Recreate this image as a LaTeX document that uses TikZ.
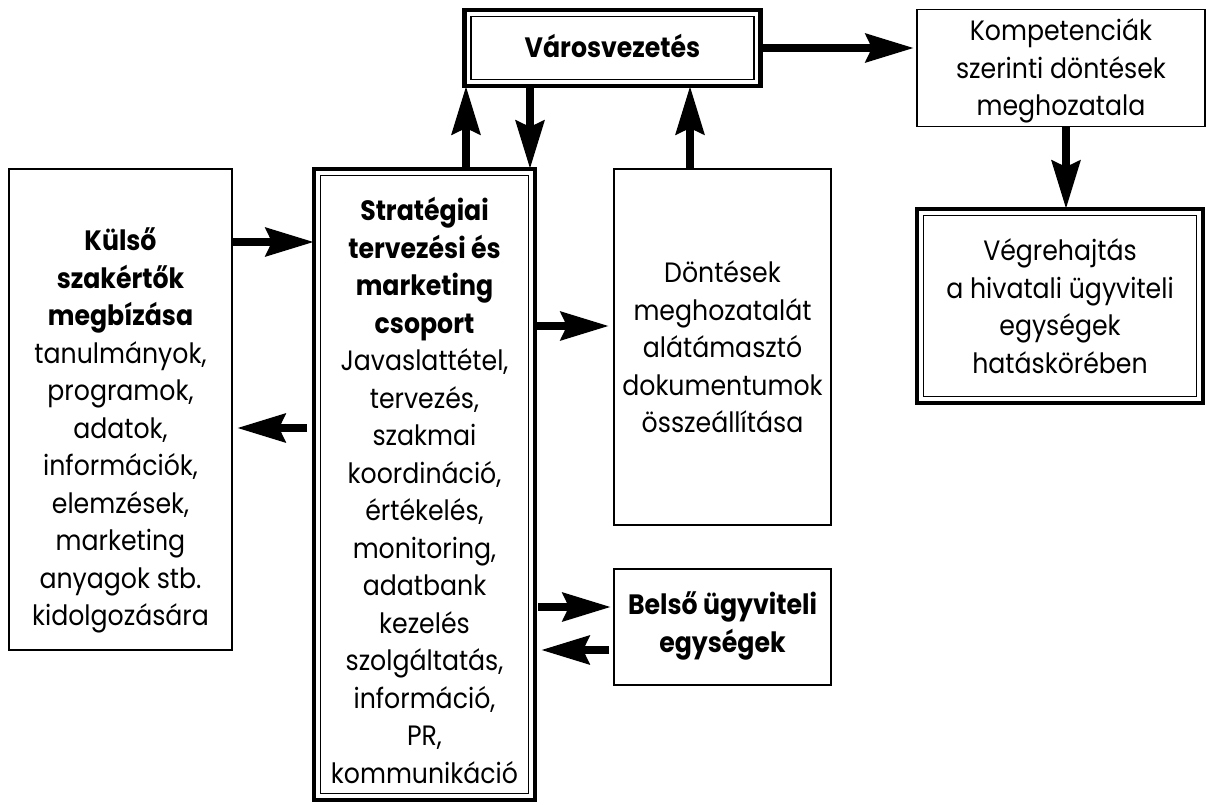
\documentclass[tikz,border=0pt]{standalone}
\usepackage{fontspec}
\setmainfont[FakeStretch=0.9]{Poppins}
\usetikzlibrary{arrows.meta}
\tikzset{
  box/.style={draw, line width=1.8pt, inner sep=0pt, outer sep=0pt},
  dbox/.style={box, line width=4.5pt},
  txt/.style={align=center, inner sep=0pt, font=\fontsize{28}{37.5}\selectfont},
  arr/.style={line width=8.5pt, -{Stealth[length=48pt,width=28pt,inset=6pt]}},
}
\newcommand{\innerframe}[1]{%
  \draw[line width=1.5pt] ([shift={(6.5pt,-6.5pt)}]#1.north west) rectangle ([shift={(-6.5pt,6.5pt)}]#1.south east);}
\begin{document}
\begin{tikzpicture}[x=1pt,y=-1pt]
\useasboundingbox (0,0) rectangle (1209,805);

% frames
\node[dbox, minimum width=296pt, minimum height=76pt] (vv) at (612.5,48) {};
\innerframe{vv}
\node[box, minimum width=288pt, minimum height=117pt] (komp) at (1061,68) {};
\node[dbox, minimum width=286pt, minimum height=194pt] (vegre) at (1060,306) {};
\innerframe{vegre}
\node[box, minimum width=223pt, minimum height=481pt] (kulso) at (120.5,409.5) {};
\node[dbox, minimum width=221pt, minimum height=631pt] (strat) at (424.5,484.5) {};
\innerframe{strat}
\node[box, minimum width=217pt, minimum height=356pt] (dontes) at (722.5,347) {};
\node[box, minimum width=217pt, minimum height=116pt] (belso) at (722.5,627) {};

% texts
\node[txt] (vvT) at ([yshift=2pt]vv.center) {\textbf{Városvezetés}};
\node[txt] (kompT) at ([yshift=-3pt]komp.center) {Kompetenciák\\szerinti döntések\\meghozatala};
\node[txt] (vegreT) at (vegre.center) {Végrehajtás\\a hivatali ügyviteli\\egységek\\hatáskörében};
\node[txt] (kulsoT) at ([yshift=-21pt]kulso.center)
  {\textbf{Külső}\\\textbf{szakértők}\\\textbf{megbízása}\\tanulmányok,\\programok,\\adatok,\\információk,\\elemzések,\\marketing\\anyagok stb.\\kidolgozására};
\node[txt] (stratT) at ([yshift=-6pt]strat.center)
  {\textbf{Stratégiai}\\\textbf{tervezési és}\\\textbf{marketing}\\\textbf{csoport}\\Javaslattétel,\\tervezés,\\szakmai\\koordináció,\\értékelés,\\monitoring,\\adatbank\\kezelés\\szolgáltatás,\\információ,\\PR,\\kommunikáció};
\node[txt] (dontesT) at (dontes.center) {Döntések\\meghozatalát\\alátámasztó\\dokumentumok\\összeállítása};
\node[txt] (belsoT) at ([yshift=1pt]belso.center) {\textbf{Belső ügyviteli}\\\textbf{egységek}};

% connectors
\draw[arr] (strat.north -| 466,0) -- (vv.south -| 466,0);
\draw[arr] (vv.south -| 530,0) -- (strat.north -| 530,0);
\draw[arr] (dontes.north -| 690,0) -- (vv.south -| 690,0);
\draw[arr] (vv.east |- 0,48) -- ([xshift=-3pt]komp.west |- 0,48);
\draw[arr] (komp.south -| 1066,0) -- (vegre.north -| 1066,0);
\draw[arr] (kulso.east |- 0,242) -- (strat.west |- 0,242);
\draw[arr] ([xshift=-7pt]strat.west |- 0,428) -- ([xshift=5pt]kulso.east |- 0,428);
\draw[arr] (strat.east |- 0,326) -- ([xshift=-5pt]dontes.west |- 0,326);
\draw[arr] ([xshift=3pt]strat.east |- 0,607) -- ([xshift=-3pt]belso.west |- 0,607);
\draw[arr] ([xshift=-5pt]belso.west |- 0,650) -- ([xshift=6pt]strat.east |- 0,650);
\end{tikzpicture}
\end{document}
